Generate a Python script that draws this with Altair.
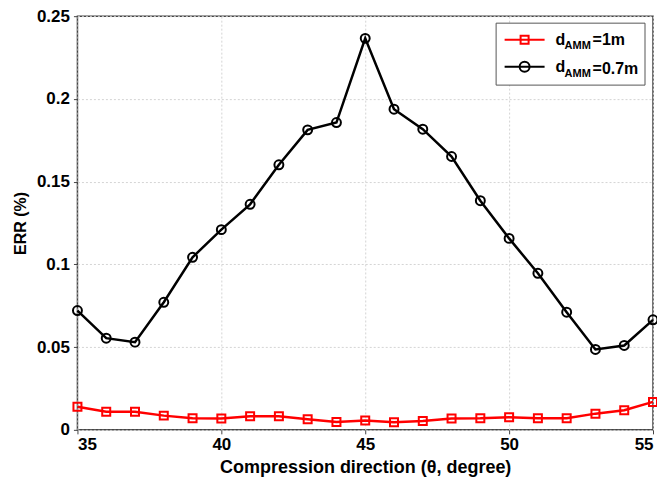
import altair as alt
import pandas as pd

theta = list(range(35, 56))
err_1m = [0.014, 0.011, 0.011, 0.0086, 0.007, 0.0068, 0.0082, 0.0082, 0.0064, 0.0048, 0.0056,
          0.0046, 0.0054, 0.0068, 0.007, 0.0076, 0.007, 0.007, 0.0098, 0.0119, 0.0169]
err_07m = [0.0721, 0.0554, 0.053, 0.0771, 0.1043, 0.121, 0.1363, 0.1602, 0.1813, 0.1857, 0.2366,
           0.1938, 0.1817, 0.1652, 0.1385, 0.1157, 0.0946, 0.0711, 0.0486, 0.051, 0.0665]
series_names = ["1m", "0.7m"]
sub_names = ["s1", "s2"]
tail_names = ["=1m", "=0.7m"]
series_colors = ["#ff0000", "#000000"]
x_ticks = [35, 40, 45, 50, 55]
y_ticks = [0, 0.05, 0.1, 0.15, 0.2, 0.25]

n = len(theta)
df = pd.DataFrame({
    "theta": theta + theta,
    "err": err_1m + err_07m,
    "series": [series_names[0]] * n + [series_names[1]] * n,
    "sub": [sub_names[0]] * n + [sub_names[1]] * n,
    "tail": [tail_names[0]] * n + [tail_names[1]] * n,
})

FONT = "Liberation Sans"

x_enc = alt.X("theta:Q", scale=alt.Scale(domain=[35, 55], nice=False, zero=False),
              axis=alt.Axis(values=x_ticks, title="Compression direction (\u03b8, degree)",
                            labelFontSize=17, titleFontSize=18, labelPadding=3, titlePadding=6))
y_enc = alt.Y("err:Q", scale=alt.Scale(domain=[0, 0.25], nice=False),
              axis=alt.Axis(values=y_ticks, format="~g", title="ERR (%)",
                            labelFontSize=17, titleFontSize=16, labelPadding=4, titlePadding=8))

base = alt.Chart(df).encode(x=x_enc, y=y_enc)

red = base.transform_filter(alt.datum.series == series_names[0])
black = base.transform_filter(alt.datum.series == series_names[1])

red_line = red.mark_line(color=series_colors[0], strokeWidth=2.5)
black_line = black.mark_line(color=series_colors[1], strokeWidth=2.5)
red_pts = red.mark_point(shape="square", filled=False, color=series_colors[0], size=64, strokeWidth=2, opacity=1)
black_pts = black.mark_point(shape="circle", filled=False, color=series_colors[1], size=80, strokeWidth=2, opacity=1)

sq_path = "M-2,0H2M-0.4,-0.4H0.4V0.4H-0.4Z"
ci_path = "M-2,0H2M0.5,0A0.5,0.5,0,1,1,-0.5,0A0.5,0.5,0,1,1,0.5,0"

# symbols + "d"
legend_main = alt.Legend(
    title=None, orient="none", legendX=418.5, legendY=6.5, direction="vertical", zindex=2,
    labelExpr="'d'",
    labelFontSize=16, labelFont=FONT, labelFontWeight="bold", labelColor="black",
    symbolSize=400, symbolStrokeWidth=2, symbolOpacity=1, symbolOffset=12, labelOffset=20,
    padding=6, rowPadding=8,
)
# subscript "AMM"
legend_sub = alt.Legend(
    title=None, orient="none", legendX=476.5, legendY=24, direction="vertical", zindex=2,
    labelExpr="'AMM'", labelFontSize=11, labelFont=FONT, labelFontWeight="bold", labelColor="black",
    symbolSize=1, symbolOpacity=0, symbolStrokeColor="transparent", symbolFillColor="transparent",
    symbolOffset=0, labelOffset=0, padding=0, rowPadding=16,
)
# "=1m" / "=0.7m" and the legend frame
legend_tail = alt.Legend(
    title=None, orient="none", legendX=418.5, legendY=6.5, direction="vertical", zindex=1,
    labelFontSize=16, labelFont=FONT, labelFontWeight="bold", labelColor="black",
    symbolSize=400, symbolOpacity=0, symbolStrokeColor="transparent", symbolFillColor="transparent",
    symbolOffset=12, labelOffset=57, padding=6, rowPadding=8,
    fillColor="white", strokeColor="#555555",
)

legend_layer = alt.Chart(df).transform_filter(alt.datum.theta < 0).mark_point(
    filled=False, strokeWidth=2
).encode(
    x=x_enc, y=y_enc,
    color=alt.Color("series:N", scale=alt.Scale(domain=series_names, range=series_colors), legend=legend_main),
    shape=alt.Shape("series:N", scale=alt.Scale(domain=series_names, range=[sq_path, ci_path]), legend=legend_main),
)

sub_layer = alt.Chart(df).transform_filter(alt.datum.theta < 0).mark_point(
    filled=False
).encode(
    x=x_enc, y=y_enc,
    strokeDash=alt.StrokeDash("sub:N", scale=alt.Scale(domain=sub_names, range=[[1, 0], [2, 0]]), legend=legend_sub),
)

tail_layer = alt.Chart(df).transform_filter(alt.datum.theta < 0).mark_point(
    filled=True
).encode(
    x=x_enc, y=y_enc,
    fill=alt.Fill("tail:N", scale=alt.Scale(domain=tail_names, range=["white", "white"]), legend=legend_tail),
)

chart = alt.layer(red_line, black_line, red_pts, black_pts, tail_layer, legend_layer, sub_layer).properties(
    width=576, height=414,
    padding={"left": 69.5, "top": 8, "right": 4, "bottom": 50},
    autosize=alt.AutoSizeParams(type="none"),
).configure_view(
    stroke="#444444", strokeWidth=1.5
).configure_axis(
    labelFont=FONT, titleFont=FONT, labelFontWeight="bold", titleFontWeight="bold",
    labelColor="black", titleColor="black", domain=False,
    tickSize=4, tickColor="#444444",
    gridColor="#d4d4d4", gridDash=[2, 2], gridWidth=1,
).configure_legend(
    labelFont=FONT
)

chart.save("out.html", embed_options={"renderer": "svg", "actions": False})
